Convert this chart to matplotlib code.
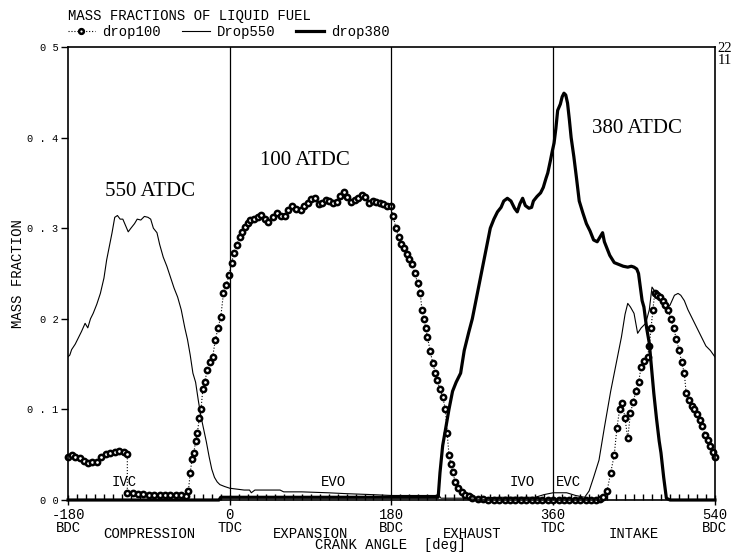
import numpy as np
import matplotlib
matplotlib.use("Agg")
from matplotlib import pyplot as plt

# crank angle [deg] and mass fraction
drop100_x = [-180, -176, -172, -167, -162, -158, -153, -148, -143, -138, -133, -128, -123, -118, -114,
             -114, -108, -102, -96, -90, -84, -78, -72, -66, -60, -54, -49,
             -46, -44, -42, -40, -38, -36, -34, -32, -30, -28, -25, -22, -19, -16, -13, -10, -7, -4, -1,
             2, 5, 8, 11, 14, 17, 20, 23, 27, 31, 35, 39, 43, 48, 53, 57, 61, 65, 69, 74, 79, 83, 87,
             91, 95, 99, 103, 107, 111, 115, 119, 123, 127, 131, 135, 139, 143, 147, 151, 155, 159,
             163, 167, 171, 175, 179, 182, 185, 188, 191, 194, 197, 200, 203, 206, 209, 212, 214, 216,
             218, 220, 223, 226, 229, 231, 234, 237, 240, 242, 244, 246, 248, 251, 254, 258, 262, 266,
             270, 276, 282, 288, 294, 300, 306, 312, 318, 324, 330, 336, 342, 348, 354, 360, 366, 372,
             378, 384, 390, 396, 402, 408, 412, 415, 420, 424, 428, 431, 434, 437, 440, 443, 446, 449,
             452, 455, 458, 461, 465, 467, 469, 471, 473, 476, 479, 482, 485, 488, 491, 494, 497, 500,
             503, 506, 508, 511, 514, 517, 520, 523, 526, 529, 532, 535, 538, 540]
drop100_y = [0.047, 0.050, 0.048, 0.046, 0.043, 0.041, 0.042, 0.042, 0.047, 0.051, 0.052, 0.053, 0.054, 0.053, 0.051,
             0.008, 0.008, 0.007, 0.007, 0.006, 0.006, 0.005, 0.005, 0.005, 0.005, 0.005, 0.004,
             0.010, 0.030, 0.045, 0.052, 0.065, 0.074, 0.090, 0.100, 0.122, 0.130, 0.143, 0.152, 0.158, 0.177, 0.190, 0.202, 0.228, 0.237, 0.248,
             0.262, 0.273, 0.282, 0.290, 0.296, 0.301, 0.306, 0.309, 0.310, 0.312, 0.315, 0.310, 0.307, 0.312, 0.317, 0.314, 0.313, 0.320, 0.324, 0.321, 0.320, 0.325, 0.328,
             0.332, 0.333, 0.327, 0.328, 0.331, 0.330, 0.328, 0.329, 0.336, 0.340, 0.334, 0.329, 0.331, 0.333, 0.337, 0.334, 0.328, 0.330,
             0.329, 0.328, 0.327, 0.325, 0.324, 0.313, 0.300, 0.290, 0.283, 0.278, 0.272, 0.266, 0.260, 0.250, 0.240, 0.228, 0.210, 0.200,
             0.190, 0.180, 0.165, 0.151, 0.140, 0.132, 0.122, 0.114, 0.100, 0.074, 0.050, 0.040, 0.031, 0.020, 0.013, 0.009, 0.006, 0.004,
             0.002, 0.001, 0.001, 0.000, 0.000, 0.000, 0.000, 0.000, 0.000, 0.000, 0.000, 0.000, 0.000, 0.000, 0.000, 0.000, 0.000, 0.000,
             0.000, 0.000, 0.000, 0.000, 0.000, 0.000, 0.001, 0.003, 0.010, 0.030, 0.050, 0.080, 0.100, 0.107, 0.090, 0.068, 0.096, 0.108,
             0.120, 0.130, 0.147, 0.153, 0.158, 0.170, 0.190, 0.210, 0.228, 0.226, 0.224, 0.220, 0.215, 0.210, 0.200, 0.190, 0.178, 0.166,
             0.152, 0.140, 0.118, 0.110, 0.104, 0.100, 0.095, 0.088, 0.082, 0.072, 0.066, 0.060, 0.053, 0.048]

drop550_x = [-180, -178, -176, -172, -168, -165, -161, -158, -155, -152, -148, -144, -140, -137, -134, -131,
             -128, -125, -122, -119, -116, -113, -110, -106, -103, -99, -95, -91, -88, -85, -81, -78, -74,
             -70, -66, -62, -58, -54, -50, -47, -44, -41, -38, -35, -32, -29, -26, -23, -20, -17, -14, -11,
             -6, 0, 8, 16, 22, 24, 28, 40, 56, 60, 80, 109, 130, 157, 180, 210, 233, 235, 260, 300, 340,
             350, 360, 375, 385, 395, 400, 405, 411, 417, 424, 430, 436, 440, 443, 446, 450, 454, 458,
             463, 467, 470, 472, 476, 480, 485, 490, 495, 499, 502, 506, 510, 515, 520, 525, 530, 535, 540]
drop550_y = [0.158, 0.160, 0.166, 0.172, 0.180, 0.186, 0.195, 0.190, 0.200, 0.206, 0.216, 0.228, 0.245, 0.265, 0.280, 0.295,
             0.312, 0.314, 0.310, 0.310, 0.303, 0.296, 0.300, 0.305, 0.310, 0.309, 0.313, 0.312, 0.310, 0.300, 0.295, 0.282, 0.268,
             0.258, 0.246, 0.234, 0.224, 0.210, 0.190, 0.177, 0.160, 0.140, 0.130, 0.110, 0.092, 0.078, 0.064, 0.048, 0.034, 0.025, 0.020, 0.017,
             0.015, 0.013, 0.012, 0.011, 0.011, 0.008, 0.011, 0.011, 0.011, 0.009, 0.009, 0.008, 0.007, 0.006, 0.005, 0.005, 0.005, 0.002, 0.002, 0.003, 0.003,
             0.006, 0.008, 0.008, 0.005, 0.003, 0.010, 0.025, 0.044, 0.080, 0.120, 0.150, 0.180, 0.205, 0.217, 0.213, 0.206, 0.184, 0.190,
             0.195, 0.210, 0.235, 0.232, 0.226, 0.220, 0.210, 0.215, 0.226, 0.228, 0.226, 0.220, 0.210, 0.200, 0.190, 0.180, 0.170, 0.165, 0.158]

drop380_x = [-180, -12, -10, 232, 234, 237, 240, 244, 248, 252, 257, 261, 266, 270, 274, 277, 280, 284, 287, 290,
             294, 298, 302, 305, 309, 313, 317, 320, 323, 326, 329, 333, 336, 338, 342, 346, 349, 352, 354,
             357, 359, 361, 363, 365, 368, 370, 372, 374, 376, 378, 380, 383, 386, 389, 393, 397, 401, 405,
             409, 412, 415, 417, 419, 423, 428, 433, 438, 443, 447, 450, 453, 455, 457, 459, 461, 464, 467,
             470, 472, 475, 478, 480, 483, 486, 490, 540]
drop380_y = [0.000, 0.000, 0.003, 0.003, 0.030, 0.060, 0.077, 0.100, 0.120, 0.130, 0.140, 0.165, 0.185, 0.200, 0.220, 0.235, 0.250, 0.270, 0.285, 0.300,
             0.310, 0.318, 0.323, 0.330, 0.333, 0.330, 0.322, 0.318, 0.327, 0.333, 0.325, 0.322, 0.323, 0.330, 0.335, 0.339, 0.345, 0.355, 0.361,
             0.375, 0.385, 0.394, 0.410, 0.430, 0.437, 0.445, 0.449, 0.447, 0.438, 0.420, 0.400, 0.379, 0.355, 0.330, 0.317, 0.305, 0.297, 0.287,
             0.285, 0.290, 0.295, 0.285, 0.280, 0.270, 0.262, 0.260, 0.258, 0.257, 0.258, 0.257, 0.255, 0.250, 0.235, 0.220, 0.213, 0.190, 0.173,
             0.140, 0.118, 0.090, 0.065, 0.052, 0.025, 0.002, 0.000, 0.000]

x_ticks = [-180, 0, 180, 360, 540]
x_ticklabels = ["-180\nBDC", "0\nTDC", "180\nBDC", "360\nTDC", "540\nBDC"]
y_ticks = [0.0, 0.1, 0.2, 0.3, 0.4, 0.5]
y_ticklabels = ["0 0", "0 . 1", "0 2", "0 . 3", "0 . 4", "0 5"]
strokes = ["COMPRESSION", "EXPANSION", "EXHAUST", "INTAKE"]
stroke_pos = [-90, 90, 270, 450]
valve_events = ["IVC", "EVO", "IVO", "EVC"]
valve_pos = [-118, 115, 326, 377]
cases = ["550 ATDC", "100 ATDC", "380 ATDC"]
case_pos = [(-89, 0.340), (84, 0.375), (453, 0.41)]

mono = "Liberation Mono"

fig = plt.figure(figsize=(7.37, 5.56), dpi=100)
ax = fig.add_axes([0.0923, 0.1007, 0.8777, 0.8148])

ax.plot(drop100_x, drop100_y, ls=":", lw=0.8, color="black", marker="o", ms=3.8,
        mfc="white", mec="black", mew=1.8, label="drop100", clip_on=False)
ax.plot(drop550_x, drop550_y, lw=0.8, color="black", label="Drop550")
ax.plot(drop380_x, drop380_y, lw=2.3, color="black", label="drop380", clip_on=False)

for v in [0, 180, 360]:
    ax.axvline(v, color="black", lw=0.9)

ax.set_xlim(-180, 540)
ax.set_ylim(0, 0.5)
ax.set_xticks(x_ticks)
ax.set_xticklabels(x_ticklabels, fontfamily=mono, fontsize=10, linespacing=0.95)
ax.set_xticks(np.arange(-170, 540, 10), minor=True)
ax.tick_params(axis="x", which="minor", direction="in", length=4, width=1)
ax.tick_params(axis="x", which="major", direction="inout", length=7, width=1, pad=2)
ax.set_yticks(y_ticks)
ax.set_yticklabels(y_ticklabels, fontfamily=mono, fontsize=7.5)
ax.tick_params(axis="y", direction="out", length=5, width=1, pad=2)
for s in ax.spines.values():
    s.set_linewidth(1.2)

ax.set_ylabel("MASS FRACTION", fontfamily=mono, fontsize=10)
ax.yaxis.set_label_coords(-0.066, 0.5)

for name, pos in zip(strokes, stroke_pos):
    ax.text(pos, -0.0755, name, transform=ax.get_xaxis_transform(), ha="center", va="center",
            fontfamily=mono, fontsize=10)
ax.text(179, -0.1, "CRANK ANGLE  [deg]", transform=ax.get_xaxis_transform(), ha="center",
        va="center", fontfamily=mono, fontsize=10)

for name, pos in zip(valve_events, valve_pos):
    ax.text(pos, 0.02, name, ha="center", va="center", fontfamily=mono, fontsize=10)

for name, (px, py) in zip(cases, case_pos):
    ax.text(px, py, name, ha="center", va="center", fontfamily="Liberation Serif", fontsize=15)

fig.text(0.0923, 0.972, "MASS FRACTIONS OF LIQUID FUEL", fontfamily=mono, fontsize=10,
         ha="left", va="center")
fig.text(0.974, 0.902, "22\n11", fontfamily="Liberation Serif", fontsize=10.5, ha="left",
         va="center", linespacing=0.95)

leg = ax.legend(loc="lower left", bbox_to_anchor=(-0.005, 1.012), ncol=3, frameon=False,
                prop={"family": mono, "size": 10}, handlelength=2.0, handletextpad=0.5,
                columnspacing=1.5, borderpad=0.1, borderaxespad=0.1, markerscale=0.9,
                numpoints=1)

fig.savefig("out.png", dpi=100)
